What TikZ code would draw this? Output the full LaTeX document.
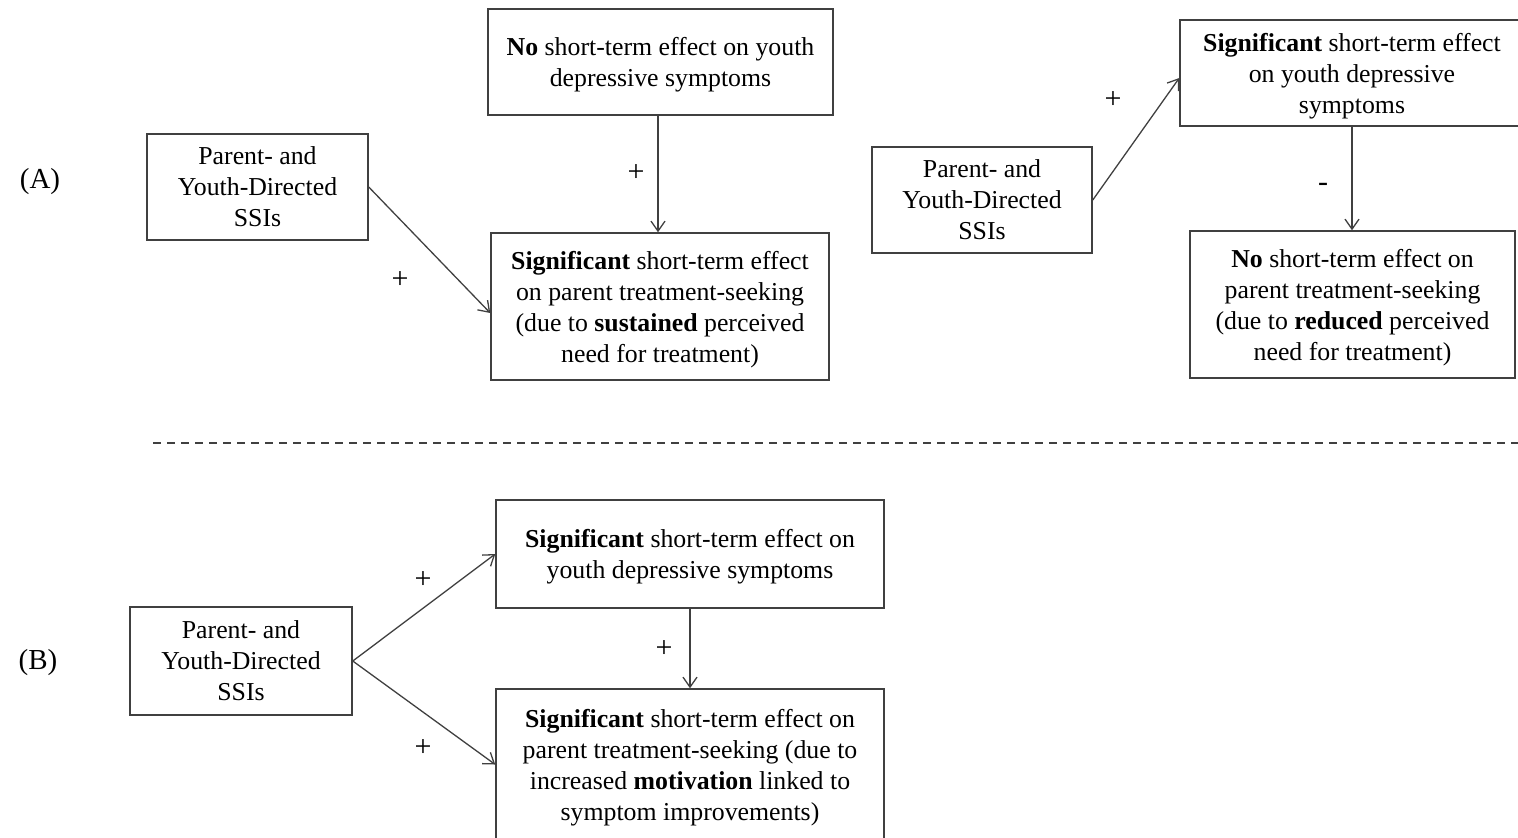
\documentclass[tikz,border=0pt]{standalone}
\usepackage{fontspec}
\setmainfont{Liberation Serif}
\usetikzlibrary{arrows.meta}
\definecolor{linegray}{rgb}{0.25,0.25,0.25}

\begin{document}
\begin{tikzpicture}[x=0.5pt,y=-0.5pt,
        block/.style  = {draw=linegray, line width=0.75pt, rectangle, align=center, inner sep=0pt, text depth=0pt, font=\fontsize{12.9}{15.5}\selectfont},
]
\tikzstyle{connect}=[-{Straight Barb[length=5pt,width=7pt]}, draw=linegray, line width=0.65pt]
\tikzstyle{sign}=[font=\fontsize{15}{16}\selectfont]
\tikzstyle{panel}=[font=\fontsize{14.5}{16}\selectfont]

	\useasboundingbox (0,0) rectangle (1518,837);

	% panel A, left
	\node[panel] (labA) at (40,182) {(A)};
	\node[block, minimum width=110.5pt, minimum height=53pt] (ssiA) at (257.5,187) {Parent- and\\Youth-Directed\\SSIs};
	\node[block, minimum width=172.5pt, minimum height=53pt] (noyouth) at (660.5,62) {\textbf{No} short-term effect on youth\\depressive symptoms};
	\node[block, minimum width=169pt, minimum height=73.5pt] (sigpar) at (660,306.5) {\textbf{Significant} short-term effect\\on parent treatment-seeking\\(due to \textbf{sustained} perceived\\need for treatment)};

	\node[sign] (pA1) at (636,173) {+};
	\node[sign] (pA2) at (400,280) {+};

	% panel A, right
	\node[block, minimum width=110pt, minimum height=53pt] (ssiR) at (982,200) {Parent- and\\Youth-Directed\\SSIs};
	\node[block, minimum width=172pt, minimum height=53pt] (sigyouthR) at (1352,73) {\textbf{Significant} short-term effect\\on youth depressive\\symptoms};
	\node[block, minimum width=162.5pt, minimum height=73.5pt] (noparR) at (1352.5,304.5) {\textbf{No} short-term effect on\\parent treatment-seeking\\(due to \textbf{reduced} perceived\\need for treatment)};

	\node[sign] (pR1) at (1113,100) {+};
	\node[sign] (mR1) at (1323,187) {-};

	\path
		(ssiA.east) edge [connect] ([yshift=-3.25pt]sigpar.west)
		(noyouth.south -| 658,0) edge [connect] (sigpar.north -| 658,0)
		(ssiR.east) edge [connect] ([yshift=-2.5pt]sigyouthR.west)
		(sigyouthR.south) edge [connect] (noparR.north -| sigyouthR.south);

	% separator
	\coordinate (sepL) at (153,443);
	\coordinate (sepR) at (1518,443);
	\draw[linegray, line width=0.75pt, dash pattern=on 4pt off 3pt] (sepL) -- (sepR);

	% panel B
	\node[panel] (labB) at (38,663) {(B)};
	\node[block, minimum width=111pt, minimum height=54pt] (ssiB) at (241,661) {Parent- and\\Youth-Directed\\SSIs};
	\node[block, minimum width=194pt, minimum height=54pt] (sigyouthB) at (690,554) {\textbf{Significant} short-term effect on\\youth depressive symptoms};
	\node[block, minimum width=194pt, minimum height=75.5pt] (sigparB) at (690,764.5) {\textbf{Significant} short-term effect on\\parent treatment-seeking (due to\\increased \textbf{motivation} linked to\\symptom improvements)};

	\node[sign] (pB1) at (423,580) {+};
	\node[sign] (pB2) at (423,748) {+};
	\node[sign] (pB3) at (664,649) {+};

	\path
		(ssiB.east) edge [connect] (sigyouthB.west)
		(ssiB.east) edge [connect] (sigparB.west)
		(sigyouthB.south) edge [connect] (sigparB.north);

\end{tikzpicture}
\end{document}
